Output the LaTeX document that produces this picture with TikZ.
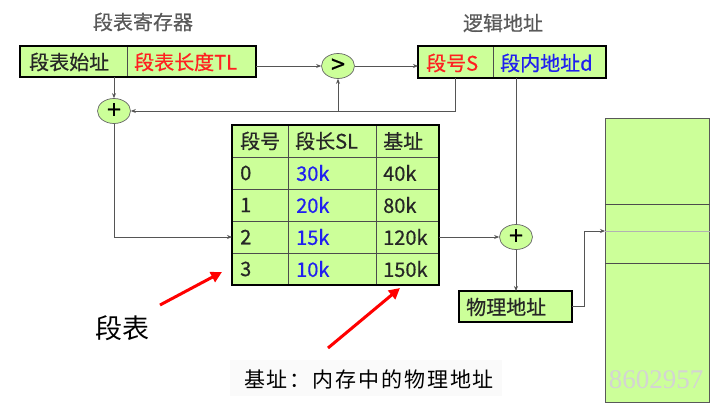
\documentclass[tikz,border=0pt]{standalone}
\usepackage{fontspec}
\setmainfont{Noto Sans CJK SC}
\newfontfamily\boxfont[FakeBold=0.5]{Noto Sans CJK SC}
\newfontfamily\wmfont{Liberation Serif}
\usetikzlibrary{arrows.meta,calc,shapes.geometric}
\definecolor{boxgreen}{HTML}{CCFF99}
\definecolor{redtxt}{HTML}{FF2020}
\definecolor{bluetxt}{HTML}{2020F0}
\definecolor{linegray}{HTML}{555555}
\tikzset{
  cellbox/.style={draw=black!70, line width=0.8pt, fill=boxgreen, minimum height=31pt, inner sep=0pt, outer sep=0pt, anchor=north west},
  txt/.style={font=\boxfont\fontsize{20}{20}\selectfont, text=black!85, inner sep=0pt, anchor=west},
  opcirc/.style={ellipse, draw=black!60, line width=0.7pt, fill=boxgreen, minimum width=33pt, minimum height=25pt, inner sep=0pt},
  opsym/.style={font=\boxfont\fontsize{25}{25}\selectfont, inner sep=0pt},
  conn/.style={draw=linegray, line width=0.8pt},
  arr/.style={conn, -{Stealth[length=5pt,width=4pt]}},
  redarr/.style={draw=red, line width=3pt, -{Triangle[length=11pt,width=11pt]}},
  thickframe/.style={draw=black, line width=2.2pt},
}
\begin{document}
\begin{tikzpicture}[x=1pt,y=-1pt]
\useasboundingbox (0,0) rectangle (715,407);
\fill[white] (0,0) rectangle (715,407);

% titles
\node[font=\boxfont\fontsize{20}{20}\selectfont, text=black!65, inner sep=0pt] (t1) at (143,22) {段表寄存器};
\node[font=\boxfont\fontsize{20}{20}\selectfont, text=black!65, inner sep=0pt] (t2) at (503,23) {逻辑地址};

% register
\node[cellbox, minimum width=107pt] (reg1) at (20,46) {};
\node[cellbox, minimum width=129pt] (reg2) at (127,46) {};
\draw[thickframe] (20,46) rectangle (256,77);
\node[txt] (reg1t) at (29,62) {段表始址};
\node[txt, text=redtxt] (reg2t) at (134,62) {段表长度TL};

% logical address
\node[cellbox, minimum width=75pt, minimum height=32pt] (ls) at (418,46) {};
\node[cellbox, minimum width=113pt, minimum height=32pt] (ld) at (493,46) {};
\draw[thickframe] (418,46) rectangle (606,78);
\node[txt, text=redtxt] (lst) at (426,63) {段号S};
\node[txt, text=bluetxt] (ldt) at (500,63) {段内地址d};

% comparator and adders
\node[opcirc] (gt) at (338,66) {};
\node[opsym] (gts) at (338,66) {>};
\node[opcirc] (p1) at (114,111) {};
\node[opsym] (p1s) at (114,111) {+};
\node[opcirc] (p2) at (516,237) {};
\node[opsym] (p2s) at (516,237) {+};

% table
\foreach \r/\y in {0/125,1/157,2/189,3/221,4/253}{
  \node[cellbox, minimum width=56pt, minimum height=32pt] (c\r a) at (232,\y) {};
  \node[cellbox, minimum width=88pt, minimum height=32pt] (c\r b) at (288,\y) {};
  \node[cellbox, minimum width=63pt, minimum height=32pt] (c\r c) at (376,\y) {};
}
\draw[thickframe] (232,125) rectangle (439,285);
\node[txt] (h1) at (240,141) {段号};
\node[txt] (h2) at (295,141) {段长SL};
\node[txt] (h3) at (383,141) {基址};
\node[txt] (a0) at (240,173) {0};
\node[txt, text=bluetxt] (b0) at (296,173) {30k};
\node[txt] (d0) at (383,173) {40k};
\node[txt] (a1) at (240,205) {1};
\node[txt, text=bluetxt] (b1) at (296,205) {20k};
\node[txt] (d1) at (383,205) {80k};
\node[txt] (a2) at (240,237) {2};
\node[txt, text=bluetxt] (b2) at (296,237) {15k};
\node[txt] (d2) at (383,237) {120k};
\node[txt] (a3) at (240,269) {3};
\node[txt, text=bluetxt] (b3) at (296,269) {10k};
\node[txt] (d3) at (383,269) {150k};

% physical address box
\node[cellbox, minimum width=113pt, minimum height=31pt] (phys) at (459,291) {};
\draw[thickframe] (459,291) rectangle (572,322);
\node[txt] (physt) at (466,307) {物理地址};

% memory
\node[draw=black!65, line width=1pt, fill=boxgreen, minimum width=104pt, minimum height=284pt, inner sep=0pt, anchor=north west] (mem) at (605,118) {};
\draw[black!70, line width=0.9pt] (mem.west |- 0,204) -- (mem.east |- 0,204);
\draw[black!70, line width=0.9pt] (mem.west |- 0,263) -- (mem.east |- 0,263);
\draw[black!30, line width=0.8pt] (mem.west |- 0,231) -- (mem.east |- 0,231);
\coordinate (memin) at (605,231);
\node[font=\wmfont\fontsize{27}{27}\selectfont, text=black!17, inner sep=0pt] (wm) at (656,380) {8602957};

% connectors
\draw[arr] (reg2.east |- gt.west) -- (gt.west);
\draw[arr] (gt.east) -- (ls.west |- gt.east);
\draw[arr] (ls.south) |- (p1.east);
\draw[arr] (gt.south |- p1.east) -- (gt.south);
\draw[arr] (p1.north |- reg1.south) -- (p1.north);
\draw[arr] (p1.south) |- (c3a.west |- a2.west);
\draw[arr] (c3c.east |- d2.west) -- (p2.west);
\draw[conn] (p2.north |- ld.south) -- (p2.north);
\draw[arr] (p2.south) -- (p2.south |- phys.north);
\draw[arr] (phys.east) -- ++(12,0) |- (memin);

% annotations
\node[font=\fontsize{27}{27}\selectfont, inner sep=0pt] (lbl1) at (122,328) {段表};
\fill[black!2] (230,360) rectangle (502,396);
\node[font=\addfontfeature{LetterSpace=9}\fontsize{21}{21}\selectfont, inner sep=0pt] (lbl2) at (369,379) {基址：内存中的物理地址};
\coordinate (r1s) at (160,305);
\coordinate (r1e) at (222,272);
\coordinate (r2s) at (328,348);
\coordinate (r2e) at (400,288);
\draw[redarr] (r1s) -- (r1e);
\draw[redarr] (r2s) -- (r2e);
\end{tikzpicture}
\end{document}
